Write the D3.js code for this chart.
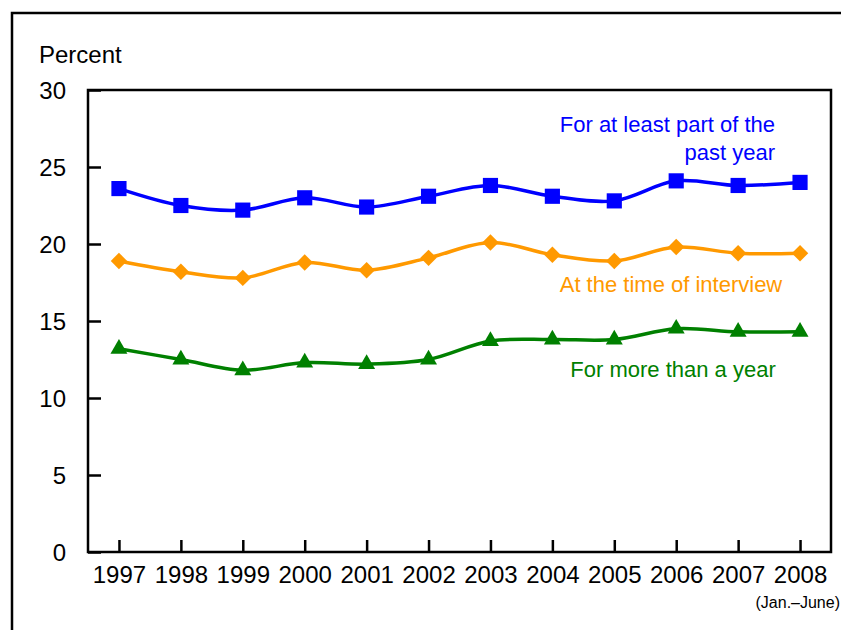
<!DOCTYPE html>
<html>
<head>
<meta charset="utf-8">
<script src="https://cdn.jsdelivr.net/npm/d3@7"></script>
<style>
  body { margin: 0; background: #fff; }
  svg { font-family: "Liberation Sans", Arial, sans-serif; }
</style>
</head>
<body>
<svg id="chart" width="841" height="630"></svg>
<script>
// values
const years = ['1997', '1998', '1999', '2000', '2001', '2002', '2003', '2004', '2005', '2006', '2007', '2008'];
const partOfYear = [23.6, 22.5, 22.2, 23.0, 22.4, 23.1, 23.8, 23.1, 22.8, 24.1, 23.8, 24.0];
const atInterview = [18.9, 18.2, 17.8, 18.8, 18.3, 19.1, 20.1, 19.3, 18.9, 19.8, 19.4, 19.4];
const moreThanYear = [13.2, 12.5, 11.8, 12.3, 12.2, 12.5, 13.7, 13.8, 13.8, 14.5, 14.3, 14.3];
const yTicks = [0, 5, 10, 15, 20, 25, 30];

const svg = d3.select('#chart');
const margin = {top: 90, right: 10, bottom: 78, left: 88};
const W = 841, H = 630;

// outer frame (open at right and bottom)
svg.append('path')
  .attr('d', `M12,${H} L12,13 L${W},13`)
  .attr('fill', 'none')
  .attr('stroke', '#000')
  .attr('stroke-width', 2.5);

const x = d3.scalePoint()
  .domain(years)
  .range([margin.left, W - margin.right])
  .padding(0.5);

const y = d3.scaleLinear()
  .domain([0, 30])
  .range([H - margin.bottom, margin.top]);

// plot box
svg.append('rect')
  .attr('x', margin.left)
  .attr('y', margin.top)
  .attr('width', W - margin.right - margin.left)
  .attr('height', H - margin.bottom - margin.top)
  .attr('fill', 'none')
  .attr('stroke', '#000')
  .attr('stroke-width', 2.5);

// y axis, ticks pointing inward
const yAxis = d3.axisRight(y).tickValues(yTicks).tickSize(13).tickFormat(d3.format('d'));
const gy = svg.append('g')
  .attr('transform', `translate(${margin.left},0)`)
  .call(yAxis);
gy.select('.domain').remove();
gy.selectAll('.tick line').attr('stroke', '#000').attr('stroke-width', 2.5);
gy.selectAll('.tick text')
  .attr('x', -22)
  .attr('dy', '0.35em')
  .style('text-anchor', 'end')
  .style('font-size', '24px')
  .attr('fill', '#000');

// x axis, ticks pointing inward
const xAxis = d3.axisTop(x).tickSize(12);
const gx = svg.append('g')
  .attr('transform', `translate(0,${H - margin.bottom})`)
  .call(xAxis);
gx.select('.domain').remove();
gx.selectAll('.tick line').attr('stroke', '#000').attr('stroke-width', 2.5);
gx.selectAll('.tick text')
  .attr('y', 31)
  .attr('dy', 0)
  .style('font-size', '24px')
  .style('text-anchor', 'middle')
  .attr('fill', '#000');

svg.append('text')
  .attr('x', 840)
  .attr('y', 608)
  .style('text-anchor', 'end')
  .style('font-size', '16px')
  .text('(Jan.\u2013June)');

svg.append('text')
  .attr('x', 39)
  .attr('y', 63)
  .style('font-size', '24px')
  .text('Percent');

const line = d3.line()
  .x((d, i) => x(years[i]))
  .y(d => y(d))
  .curve(d3.curveCatmullRom.alpha(0.5));

const series = [
  {values: partOfYear, color: '#0000ff', symbol: d3.symbolSquare, size: 230, rot: 0},
  {values: atInterview, color: '#ff9900', symbol: d3.symbolSquare, size: 135, rot: 45},
  {values: moreThanYear, color: '#008000', symbol: d3.symbolTriangle, size: 125, rot: 0}
];

series.forEach(s => {
  svg.append('path')
    .datum(s.values)
    .attr('d', line)
    .attr('fill', 'none')
    .attr('stroke', s.color)
    .attr('stroke-width', 3.5);

  svg.selectAll(null)
    .data(s.values)
    .enter()
    .append('path')
    .attr('transform', (d, i) => `translate(${x(years[i])},${y(d)}) rotate(${s.rot})`)
    .attr('d', d3.symbol().type(s.symbol).size(s.size))
    .attr('fill', s.color);
});

// series labels
const lab = svg.append('g').style('font-size', '22px');
lab.append('text').attr('x', 775).attr('y', 132).attr('fill', '#0000ff')
  .style('text-anchor', 'end').text('For at least part of the');
lab.append('text').attr('x', 775).attr('y', 160).attr('fill', '#0000ff')
  .style('text-anchor', 'end').text('past year');
lab.append('text').attr('x', 671).attr('y', 292).attr('fill', '#ff9900')
  .style('text-anchor', 'middle').text('At the time of interview');
lab.append('text').attr('x', 673).attr('y', 377).attr('fill', '#008000')
  .style('text-anchor', 'middle').text('For more than a year');
</script>
</body>
</html>
